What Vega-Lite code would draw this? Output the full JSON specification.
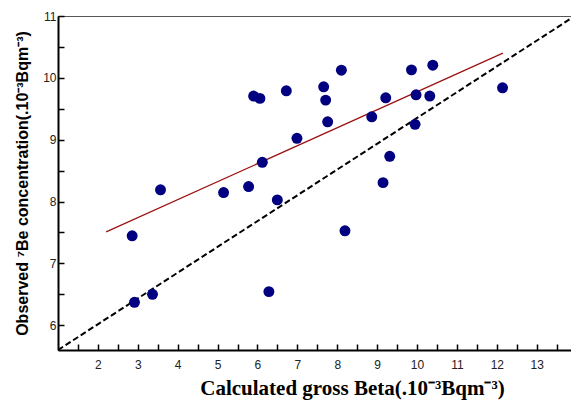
{
  "$schema": "https://vega.github.io/schema/vega-lite/v6.json",
  "autosize": "none",
  "padding": {"left": 58, "top": 16, "right": 0, "bottom": 50},
  "width": 513,
  "height": 334,
  "background": "white",
  "config": {
    "view": {"stroke": "#555555", "strokeWidth": 1},
    "axis": {"grid": false, "labelFont": "Liberation Sans", "labelFontSize": 12, "labelColor": "#222222", "domainColor": "#000000", "domainWidth": 2, "tickColor": "#000000", "tickWidth": 1.5}
  },
  "datasets": {
    "points": [
      {"beta": 2.859, "be7": 7.447},
      {"beta": 2.917, "be7": 6.371},
      {"beta": 3.369, "be7": 6.50},
      {"beta": 3.570, "be7": 8.19},
      {"beta": 5.151, "be7": 8.145},
      {"beta": 5.778, "be7": 8.242},
      {"beta": 5.904, "be7": 9.705},
      {"beta": 6.061, "be7": 9.668},
      {"beta": 6.122, "be7": 8.635},
      {"beta": 6.498, "be7": 8.027},
      {"beta": 6.287, "be7": 6.544},
      {"beta": 6.724, "be7": 9.79},
      {"beta": 6.990, "be7": 9.023},
      {"beta": 7.660, "be7": 9.855},
      {"beta": 7.710, "be7": 9.64},
      {"beta": 7.760, "be7": 9.29},
      {"beta": 8.104, "be7": 10.124},
      {"beta": 8.194, "be7": 7.527},
      {"beta": 8.865, "be7": 9.371},
      {"beta": 9.148, "be7": 8.306},
      {"beta": 9.216, "be7": 9.677},
      {"beta": 9.316, "be7": 8.732},
      {"beta": 9.861, "be7": 10.129},
      {"beta": 9.976, "be7": 9.726},
      {"beta": 9.951, "be7": 9.248},
      {"beta": 10.320, "be7": 9.705},
      {"beta": 10.395, "be7": 10.205},
      {"beta": 12.144, "be7": 9.839}
    ],
    "fit": [
      {"beta": 2.207, "be7": 7.51},
      {"beta": 12.152, "be7": 10.40}
    ],
    "ref": [
      {"beta": 1.0, "be7": 5.6},
      {"beta": 13.86, "be7": 10.96}
    ]
  },
  "encoding": {
    "x": {
      "field": "beta", "type": "quantitative",
      "scale": {"domain": [1, 13.86], "nice": false, "zero": false},
      "axis": {
        "values": [1.5, 2, 2.5, 3, 3.5, 4, 4.5, 5, 5.5, 6, 6.5, 7, 7.5, 8, 8.5, 9, 9.5, 10, 10.5, 11, 11.5, 12, 12.5, 13, 13.5],
        "labelExpr": "datum.value % 1 === 0 ? format(datum.value, 'd') : ''",
        "labelFlush": false,
        "labelOverlap": false,
        "tickSize": -6,
        "labelPadding": 15,
        "encode": {"ticks": {"update": {"y2": {"signal": "datum.value % 1 === 0 ? -6 : -4"}}}},
        "title": "Calculated gross Beta(.10⁻³Bqm⁻³)",
        "titleFont": "Liberation Serif",
        "titleFontSize": 21,
        "titleFontWeight": "bold",
        "titleColor": "#000000",
        "titlePadding": 7,
        "titleX": 294,
        "titleAlign": "center"
      }
    },
    "y": {
      "field": "be7", "type": "quantitative",
      "scale": {"domain": [5.6, 11], "nice": false, "zero": false},
      "axis": {
        "values": [6, 6.5, 7, 7.5, 8, 8.5, 9, 9.5, 10, 10.5, 11],
        "labelExpr": "datum.value % 1 === 0 ? format(datum.value, 'd') : ''",
        "labelFlush": false,
        "labelOverlap": false,
        "tickSize": -6,
        "labelPadding": 8,
        "encode": {"ticks": {"update": {"x2": {"signal": "datum.value % 1 === 0 ? 6 : 4"}}}},
        "title": "Observed  ⁷Be concentration(.10⁻³Bqm⁻³)",
        "titleFont": "Liberation Sans",
        "titleFontSize": 16,
        "titleFontWeight": "bold",
        "titleColor": "#000000",
        "titlePadding": 12
      }
    }
  },
  "layer": [
    {
      "data": {"name": "ref"},
      "mark": {"type": "line", "color": "#000000", "strokeWidth": 2, "strokeDash": [6, 3], "clip": true}
    },
    {
      "data": {"name": "fit"},
      "mark": {"type": "line", "color": "#9b1111", "strokeWidth": 1.2}
    },
    {
      "data": {"name": "points"},
      "mark": {"type": "circle", "color": "#000080", "opacity": 1, "size": 120}
    }
  ]
}
